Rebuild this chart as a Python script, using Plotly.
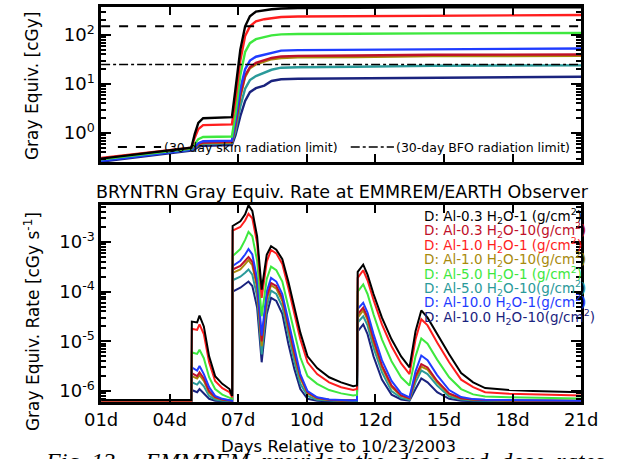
import plotly.graph_objects as go

# ---------------- data ----------------
series_names = [
    "D: Al-0.3 H<sub>2</sub>O-1 (g/cm<sup>2</sup>)",
    "D: Al-0.3 H<sub>2</sub>O-10(g/cm<sup>2</sup>)",
    "D: Al-1.0 H<sub>2</sub>O-1 (g/cm<sup>2</sup>)",
    "D: Al-1.0 H<sub>2</sub>O-10(g/cm<sup>2</sup>)",
    "D: Al-5.0 H<sub>2</sub>O-1 (g/cm<sup>2</sup>)",
    "D: Al-5.0 H<sub>2</sub>O-10(g/cm<sup>2</sup>)",
    "D: Al-10.0 H<sub>2</sub>O-1(g/cm<sup>2</sup>)",
    "D: Al-10.0 H<sub>2</sub>O-10(g/cm<sup>2</sup>)",
]
series_colors = ["#000000", "#c0102a", "#ff1e1e", "#a88a0c",
                 "#3ee83e", "#2a9a9a", "#1f3cff", "#1a237e"]

# cumulative dose (top panel), cGy
t_dose = [1.0, 4.76, 4.9, 5.05, 5.25, 6.45, 6.6, 6.8, 7.0, 7.2, 7.45, 7.8, 8.1, 8.5, 9.2, 11.6, 12.4, 13.9, 14.8, 21.0]
dose_al03_h1 = [0.30, 0.50, 0.95, 1.6, 2.0, 2.1, 8, 50, 150, 240, 300, 320, 335, 348, 356, 358, 362, 363, 366, 368]
dose_al03_h10 = [0.30, 0.48, 0.52, 0.6, 0.64, 0.66, 1.5, 6, 15, 22, 27, 31, 34, 36.5, 37.5, 38, 38.5, 39, 39.5, 40]
dose_al1_h1 = [0.31, 0.50, 0.8, 1.2, 1.45, 1.5, 5, 30, 95, 150, 190, 210, 220, 232, 238, 240, 245, 246, 250, 256]
dose_al1_h10 = [0.30, 0.48, 0.51, 0.58, 0.62, 0.64, 1.4, 5.5, 14, 21, 25, 29, 32, 34, 35, 35.5, 36, 36.5, 37, 37.5]
dose_al5_h1 = [0.29, 0.48, 0.6, 0.75, 0.83, 0.85, 2.5, 15, 45, 68, 82, 92, 98, 103, 105, 106, 107, 107.5, 108, 110]
dose_al5_h10 = [0.28, 0.46, 0.5, 0.56, 0.6, 0.62, 1.1, 3.5, 8, 12, 14.5, 17, 19.5, 21.5, 22, 22.5, 23, 23.2, 23.5, 24]
dose_al10_h1 = [0.27, 0.46, 0.52, 0.62, 0.68, 0.70, 1.8, 8, 20, 30, 36, 40, 44, 48, 49, 50, 51, 51.5, 52, 53]
dose_al10_h10 = [0.26, 0.44, 0.47, 0.52, 0.55, 0.57, 0.9, 2.2, 4.5, 6.8, 8.2, 9.3, 11.5, 12.5, 12.8, 13, 13.3, 13.5, 13.7, 14]

skin_limit = 150   # cGy, 30-day skin
bfo_limit = 25     # cGy, 30-day BFO

# dose rate (bottom panel), cGy/s
t_rate = [1.0, 4.76, 4.78, 5.0, 5.1, 5.28, 5.5, 5.75, 6.05, 6.35, 6.46, 6.48, 6.8, 7.0, 7.14, 7.3, 7.5,
          7.69, 7.9, 8.08, 8.3, 8.55, 8.8, 9.05, 9.3, 9.6, 10.0, 10.5, 11.0, 11.5, 11.66, 11.69, 11.92,
          12.1, 12.35, 12.7, 13.1, 13.5, 13.85, 14.1, 14.34, 14.6, 15.0, 15.5, 16.0, 16.5, 17.0, 18.0,
          19.0, 20.0, 21.0]
rate_al03_h1 = [6.6e-7, 6.6e-7, 2.5e-5, 2.4e-5, 3.3e-5, 2.0e-5, 5e-6, 2.0e-6, 1.4e-6, 1.1e-6, 8e-7,
                2.1e-3, 2.6e-3, 3.6e-3, 5.5e-3, 4.2e-3, 1.3e-3, 1.1e-4, 5.5e-4, 8.2e-4, 7.0e-4, 4.5e-4,
                1.6e-4, 5e-5, 1.5e-5, 5e-6, 2.9e-6, 1.9e-6, 1.5e-6, 1.25e-6, 1.3e-6, 2.5e-4, 3.5e-4,
                2.2e-4, 9e-5, 3e-5, 1.1e-5, 5e-6, 3e-6, 1.6e-5, 4.2e-5, 3e-5, 1.4e-5, 5.5e-6, 2.3e-6,
                1.5e-6, 1.15e-6, 1.05e-6, 1.0e-6, 9.8e-7, 9.5e-7]
rate_al03_h10 = [6.5e-7, 6.5e-7, 2.3e-6, 2.0e-6, 2.4e-6, 1.8e-6, 1.0e-6, 7.6e-7, 6.8e-7, 6.5e-7, 6.4e-7,
                 2.8e-4, 3.3e-4, 4.2e-4, 5.0e-4, 4.0e-4, 1.4e-4, 1e-5, 8e-5, 1.5e-4, 1.3e-4, 7.5e-5,
                 2e-5, 6e-6, 2e-6, 9.5e-7, 7.3e-7, 6.7e-7, 6.5e-7, 6.5e-7, 6.6e-7, 3.5e-5, 4.8e-5,
                 3.1e-5, 1.1e-5, 3.3e-6, 1.3e-6, 8.2e-7, 7.2e-7, 2e-6, 3.5e-6, 3e-6, 1.6e-6, 9e-7, 7.2e-7,
                 6.8e-7, 6.6e-7, 6.5e-7, 6.5e-7, 6.5e-7, 6.4e-7]
rate_al1_h1 = [6.4e-7, 6.4e-7, 1.8e-5, 1.7e-5, 2.2e-5, 1.4e-5, 3.8e-6, 1.6e-6, 1.15e-6, 9.5e-7, 7.5e-7,
               1.7e-3, 2.0e-3, 2.7e-3, 3.7e-3, 3.0e-3, 9.5e-4, 7.5e-5, 4e-4, 6.9e-4, 5.9e-4, 3.6e-4,
               1.2e-4, 3.7e-5, 1.1e-5, 3.8e-6, 2.2e-6, 1.5e-6, 1.2e-6, 1.05e-6, 1.1e-6, 1.9e-4, 2.7e-4,
               1.7e-4, 6.8e-5, 2.2e-5, 8e-6, 3.6e-6, 2.2e-6, 1.1e-5, 2.8e-5, 2.1e-5, 9.5e-6, 3.8e-6,
               1.7e-6, 1.2e-6, 9.5e-7, 8.8e-7, 8.5e-7, 8.3e-7, 8.2e-7]
rate_al1_h10 = [6.5e-7, 6.5e-7, 2.0e-6, 1.8e-6, 2.1e-6, 1.6e-6, 9.2e-7, 7.3e-7, 6.7e-7, 6.5e-7, 6.4e-7,
                2.4e-4, 2.8e-4, 3.6e-4, 4.3e-4, 3.4e-4, 1.2e-4, 8e-6, 7e-5, 1.35e-4, 1.15e-4, 6.5e-5,
                1.7e-5, 5.2e-6, 1.8e-6, 9e-7, 7.1e-7, 6.6e-7, 6.5e-7, 6.5e-7, 6.6e-7, 3e-5, 4.2e-5,
                2.7e-5, 9.5e-6, 3e-6, 1.2e-6, 8e-7, 7e-7, 1.8e-6, 3.1e-6, 2.7e-6, 1.5e-6, 8.6e-7, 7.1e-7,
                6.7e-7, 6.6e-7, 6.5e-7, 6.5e-7, 6.4e-7, 6.4e-7]
rate_al5_h1 = [6.4e-7, 6.4e-7, 6.0e-6, 5.6e-6, 6.8e-6, 4.6e-6, 1.9e-6, 1.1e-6, 8.5e-7, 7.5e-7, 7e-7,
               5.2e-4, 7.2e-4, 1.1e-3, 1.6e-3, 1.3e-3, 4.2e-4, 3.2e-5, 1.8e-4, 3.2e-4, 2.7e-4, 1.6e-4,
               5e-5, 1.5e-5, 4.8e-6, 2e-6, 1.4e-6, 1.05e-6, 9e-7, 8.2e-7, 8.4e-7, 1e-4, 1.4e-4,
               9e-5, 3.5e-5, 1.1e-5, 4e-6, 1.9e-6, 1.3e-6, 5e-6, 1.15e-5, 9e-6, 4.3e-6, 1.9e-6, 1.1e-6,
               8.6e-7, 7.8e-7, 7.5e-7, 7.3e-7, 7.2e-7, 7.1e-7]
rate_al5_h10 = [6.3e-7, 6.3e-7, 1.5e-6, 1.35e-6, 1.55e-6, 1.25e-6, 8e-7, 6.8e-7, 6.4e-7, 6.3e-7, 6.3e-7,
                1.7e-4, 2.0e-4, 2.4e-4, 2.8e-4, 2.2e-4, 8e-5, 5.5e-6, 5e-5, 1.05e-4, 9e-5, 5e-5,
                1.3e-5, 4e-6, 1.4e-6, 8e-7, 6.7e-7, 6.4e-7, 6.3e-7, 6.3e-7, 6.4e-7, 2.4e-5, 3.2e-5,
                2.1e-5, 7.5e-6, 2.4e-6, 1e-6, 7.3e-7, 6.7e-7, 1.5e-6, 2.6e-6, 2.2e-6, 1.3e-6, 7.8e-7,
                6.8e-7, 6.5e-7, 6.4e-7, 6.3e-7, 6.3e-7, 6.3e-7, 6.3e-7]
rate_al10_h1 = [6.3e-7, 6.3e-7, 3.0e-6, 2.6e-6, 3.2e-6, 2.2e-6, 1.2e-6, 8e-7, 7e-7, 6.6e-7, 6.4e-7,
                3.3e-4, 4.2e-4, 5.6e-4, 7.2e-4, 5.6e-4, 1.8e-4, 1.3e-5, 1e-4, 1.9e-4, 1.6e-4, 9e-5,
                2.5e-5, 7e-6, 2.2e-6, 1e-6, 7.5e-7, 6.8e-7, 6.6e-7, 6.5e-7, 6.6e-7, 4.5e-5, 6e-5,
                3.8e-5, 1.4e-5, 4.2e-6, 1.6e-6, 9e-7, 7.5e-7, 2.5e-6, 5.2e-6, 4.2e-6, 2.1e-6, 1.05e-6,
                7.6e-7, 6.9e-7, 6.7e-7, 6.6e-7, 6.5e-7, 6.5e-7, 6.4e-7]
rate_al10_h10 = [6.2e-7, 6.2e-7, 1.05e-6, 9.5e-7, 1.1e-6, 9e-7, 7e-7, 6.4e-7, 6.2e-7, 6.2e-7, 6.2e-7,
                 1.0e-4, 1.2e-4, 1.4e-4, 1.6e-4, 1.3e-4, 4.8e-5, 3.8e-6, 3.5e-5, 7.5e-5, 6.5e-5, 3.6e-5,
                 9e-6, 2.8e-6, 1.1e-6, 7e-7, 6.4e-7, 6.2e-7, 6.2e-7, 6.2e-7, 6.3e-7, 1.6e-5, 2.2e-5,
                 1.4e-5, 5e-6, 1.7e-6, 8.5e-7, 6.8e-7, 6.4e-7, 1.1e-6, 1.8e-6, 1.5e-6, 9.5e-7, 7e-7,
                 6.4e-7, 6.3e-7, 6.2e-7, 6.2e-7, 6.2e-7, 6.2e-7, 6.2e-7]

x_tick_days = [1.0, 3.857, 6.714, 9.571, 12.429, 15.286, 18.143, 21.0]
x_tick_labels = ["01d", "04d", "07d", "10d", "12d", "15d", "18d", "21d"]
top_y_ticks = [1, 10, 100]
top_y_labels = ["10<sup>0</sup>", "10<sup>1</sup>", "10<sup>2</sup>"]
bot_y_ticks = [1e-6, 1e-5, 1e-4, 1e-3]
bot_y_labels = ["10<sup>-6</sup>", "10<sup>-5</sup>", "10<sup>-4</sup>", "10<sup>-3</sup>"]

dose_series = [dose_al03_h1, dose_al03_h10, dose_al1_h1, dose_al1_h10,
               dose_al5_h1, dose_al5_h10, dose_al10_h1, dose_al10_h10]
rate_series = [rate_al03_h1, rate_al03_h10, rate_al1_h1, rate_al1_h10,
               rate_al5_h1, rate_al5_h10, rate_al10_h1, rate_al10_h10]

# ---------------- figure ----------------
W, H = 618, 459
FONT = "DejaVu Sans"

def px_x(p):
    return p / W

def px_y(p):
    return 1 - p / H

fig = go.Figure()

draw_order = [7, 5, 3, 1, 6, 4, 2, 0]
for i in draw_order:
    fig.add_trace(go.Scatter(x=t_dose, y=dose_series[i], mode="lines",
                             line=dict(color=series_colors[i], width=2.4),
                             xaxis="x", yaxis="y", showlegend=False))
for i in draw_order:
    fig.add_trace(go.Scatter(x=t_rate, y=rate_series[i], mode="lines",
                             line=dict(color=series_colors[i], width=2),
                             xaxis="x2", yaxis="y2", showlegend=False))

minor_log_top = [m * 10 ** e for e in range(-1, 3) for m in range(2, 10)]
minor_log_bot = [m * 10 ** e for e in range(-7, -2) for m in range(2, 10)]

axis_common = dict(showline=True, linecolor="black", linewidth=2.5, mirror="ticks",
                   ticks="inside", tickwidth=2, tickcolor="black", showgrid=False,
                   zeroline=False, tickfont=dict(family=FONT, size=18, color="black"))

dom_x = [px_x(89), px_x(597)]
fig.update_layout(
    width=W, height=H, margin=dict(l=0, r=0, t=0, b=0),
    paper_bgcolor="white", plot_bgcolor="white", showlegend=False,
    xaxis=dict(domain=dom_x, range=[1, 21], tickvals=x_tick_days, ticktext=[""] * len(x_tick_days),
               ticklen=8, anchor="y", **axis_common),
    yaxis=dict(domain=[px_y(162), px_y(7)], type="log", range=[-0.592, 2.571],
               tickvals=top_y_ticks, ticktext=top_y_labels, ticklen=10, anchor="x",
               minor=dict(ticks="inside", ticklen=5, tickwidth=1.5, tickcolor="black",
                          tickvals=minor_log_top, showgrid=False),
               **axis_common),
    xaxis2=dict(domain=dom_x, range=[1, 21], tickvals=x_tick_days, ticktext=x_tick_labels,
                ticklen=8, anchor="y2", **axis_common),
    yaxis2=dict(domain=[px_y(402), px_y(205)], type="log", range=[-6.219, -2.256],
                tickvals=bot_y_ticks, ticktext=bot_y_labels, ticklen=10, anchor="x2",
                minor=dict(ticks="inside", ticklen=5, tickwidth=1.5, tickcolor="black",
                           tickvals=minor_log_bot, showgrid=False),
                **axis_common),
)

# limit lines
fig.add_hline(y=skin_limit, line=dict(color="black", width=2, dash="dash"), xref="x", yref="y")
fig.add_hline(y=bfo_limit, line=dict(color="black", width=1.5, dash="dashdot"), xref="x", yref="y")

# top panel legend for limits
fig.add_shape(type="line", xref="x domain", yref="y domain", x0=0.035, x1=0.125, y0=0.097, y1=0.097,
              line=dict(color="black", width=2, dash="dash"))
fig.add_shape(type="line", xref="x domain", yref="y domain", x0=0.52, x1=0.61, y0=0.097, y1=0.097,
              line=dict(color="black", width=1.5, dash="dashdot"))
fig.add_annotation(text="(30-day skin radiation limit)", xref="paper", yref="paper",
                   x=px_x(153), y=px_y(147), xanchor="left", yanchor="middle", showarrow=False,
                   font=dict(family=FONT, size=12.5, color="black"))
fig.add_annotation(text="(30-day BFO radiation limit)", xref="paper", yref="paper",
                   x=px_x(399), y=px_y(147), xanchor="left", yanchor="middle", showarrow=False,
                   font=dict(family=FONT, size=12.5, color="black"))

# bottom panel legend
for i, (name, col) in enumerate(zip(series_names, series_colors)):
    fig.add_annotation(text=name, xref="paper", yref="paper", x=px_x(429), y=px_y(216 + 14.4 * i),
                       xanchor="left", yanchor="middle", showarrow=False,
                       font=dict(family=FONT, size=13.5, color=col))

# titles
fig.add_annotation(text="BRYNTRN Gray Equiv. Rate at EMMREM/EARTH Observer", xref="paper", yref="paper",
                   x=px_x(344), y=px_y(192), xanchor="center", yanchor="middle", showarrow=False,
                   font=dict(family=FONT, size=17.5, color="black"))
fig.add_annotation(text="Gray Equiv. [cGy]", xref="paper", yref="paper", x=px_x(16), y=px_y(86),
                   textangle=-90, xanchor="center", yanchor="middle", showarrow=False,
                   font=dict(family=FONT, size=17, color="black"))
fig.add_annotation(text="Gray Equiv. Rate [cGy s<sup>-1</sup>]", xref="paper", yref="paper",
                   x=px_x(16), y=px_y(322), textangle=-90, xanchor="center", yanchor="middle",
                   showarrow=False, font=dict(family=FONT, size=17, color="black"))
fig.add_annotation(text="Days Relative to 10/23/2003", xref="paper", yref="paper", x=px_x(340),
                   y=px_y(446), xanchor="center", yanchor="middle", showarrow=False,
                   font=dict(family=FONT, size=16.5, color="black"))
# caption fragment (cut off at bottom of the scan)
fig.add_annotation(text="<i>Fig. 13 \u2013  EMMREM  provides  the  dose  and  dose  rates</i>",
                   xref="paper", yref="paper", x=px_x(28), y=px_y(446), xanchor="left", yanchor="top",
                   showarrow=False, font=dict(family="Liberation Serif", size=24, color="black"))

fig.write_html("out.html")
